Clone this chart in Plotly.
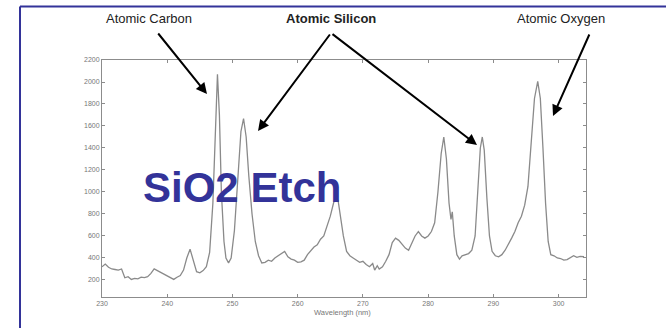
import plotly.graph_objects as go

# ---- data ----
wavelength = [230.0, 230.5, 231.0, 231.5, 232.0, 232.5, 233.0, 233.5, 234.0, 234.5, 235.0, 235.5,
              236.0, 236.5, 237.0, 237.5, 238.0, 238.5, 239.0, 239.5, 240.0, 240.5, 241.0, 241.5,
              242.0, 242.5, 243.0, 243.5, 244.0, 244.5, 245.0, 245.5, 246.0, 246.5, 247.0, 247.3,
              247.7, 248.0, 248.3, 248.7, 249.0, 249.4, 249.8, 250.3, 250.8, 251.3, 251.7, 252.1,
              252.5, 253.0, 253.5, 254.0, 254.5, 255.0, 255.5, 256.0, 256.5, 257.0, 257.5, 258.0,
              258.5, 259.0, 259.5, 260.0, 260.5, 261.0, 261.5, 262.0, 262.5, 263.0, 263.5, 264.0,
              264.5, 265.0, 265.5, 265.8, 266.2, 266.6, 267.0, 267.5, 268.0, 268.5, 269.0, 269.5,
              270.0, 270.5, 271.0, 271.5, 271.8, 272.2, 272.5, 273.0, 273.5, 274.0, 274.5, 275.0,
              275.5, 276.0, 276.5, 277.0, 277.5, 278.0, 278.5, 279.0, 279.5, 280.0, 280.5, 281.0,
              281.5, 282.0, 282.4, 282.8, 283.2, 283.5, 283.7, 284.0, 284.4, 284.8, 285.2, 285.7,
              286.2, 286.7, 287.2, 287.6, 288.0, 288.3, 288.6, 289.0, 289.4, 289.8, 290.3, 290.8,
              291.3, 291.8, 292.3, 292.8, 293.3, 293.8, 294.3, 294.8, 295.3, 295.8, 296.3, 296.8,
              297.2, 297.6, 298.0, 298.4, 298.8, 299.3, 299.8, 300.3, 300.8, 301.3, 301.8, 302.3,
              302.8, 303.3, 303.9]
intensity = [320, 345, 315, 300, 295, 290, 300, 220, 230, 205, 215, 210,
             225, 222, 230, 260, 300, 285, 270, 250, 240, 220, 205, 225,
             240, 290, 400, 480, 380, 275, 265, 285, 320, 450, 900, 1500,
             2070, 1700, 1000, 550, 400, 355, 400, 650, 1100, 1550, 1668, 1500,
             1150, 800, 550, 420, 355, 360, 380, 370, 400, 420, 440, 460,
             410, 390, 380, 360, 365, 380, 430, 470, 500, 520, 570, 600,
             690, 780, 900, 950, 920, 750, 600, 460, 420, 400, 380, 360,
             370, 340, 320, 350, 290, 330, 300, 320, 370, 430, 540, 580,
             560, 520, 490, 470, 540, 600, 640, 600, 580, 600, 640, 720,
             1000, 1350, 1500, 1300, 900, 750, 820, 600, 430, 390, 420, 430,
             440, 470, 600, 1000, 1400, 1500, 1380, 950, 600, 460, 420, 410,
             430, 470, 520, 580, 640, 720, 780, 880, 1050, 1450, 1850, 2006,
             1850, 1400, 900, 550, 430, 420, 400, 395, 380, 385, 400, 420,
             405, 415, 411]

x_ticks = [230, 240, 250, 260, 270, 280, 290, 300]
y_ticks = [200, 400, 600, 800, 1000, 1200, 1400, 1600, 1800, 2000, 2200]

labels = ["Atomic Carbon", "Atomic Silicon", "Atomic Oxygen"]
big_label = "SiO2 Etch"

# ---- layout geometry (pixels) ----
W, H = 666, 328
L, R, T, B = 102, 586, 60, 297
PW, PH = R - L, B - T


def px(x):
    return (x - L) / PW


def py(y):
    return (B - y) / PH


fig = go.Figure()
fig.add_trace(go.Scatter(x=wavelength, y=intensity, mode="lines",
                         line=dict(color="#8a8a8a", width=1.3), hoverinfo="skip"))

axis_common = dict(showgrid=False, zeroline=False, showline=True, linecolor="#8c8c8c",
                   linewidth=1, mirror="ticks", ticks="inside", ticklen=3,
                   tickcolor="#8c8c8c", tickfont=dict(family="Liberation Sans, Arial", size=7,
                                                      color="#777777"))

fig.update_layout(
    width=W, height=H,
    margin=dict(l=L, r=W - R, t=T, b=H - B, pad=0),
    paper_bgcolor="white", plot_bgcolor="white",
    showlegend=False,
    xaxis=dict(range=[230, 304.2], tickvals=x_ticks, ticktext=[str(v) for v in x_ticks],
               **axis_common),
    yaxis=dict(range=[45, 2200], tickvals=y_ticks, ticktext=[str(v) for v in y_ticks],
               **axis_common),
)

# blue frame
frame_col = "#333399"
fig.add_shape(type="line", xref="paper", yref="paper", x0=px(20), x1=px(666), y0=py(6.5), y1=py(6.5),
              line=dict(color=frame_col, width=2))
fig.add_shape(type="line", xref="paper", yref="paper", x0=px(20), x1=px(20), y0=py(6.5), y1=py(330),
              line=dict(color=frame_col, width=2))

font_name = "Liberation Sans, Arial"


def text_at(x, y, text, size, color, bold=False):
    fig.add_annotation(xref="paper", yref="paper", x=px(x), y=py(y),
                       xanchor="center", yanchor="middle",
                       text=("<b>" + text + "</b>") if bold else text, showarrow=False,
                       font=dict(family=font_name, size=size, color=color))


text_at(149, 19, labels[0], 13, "#222222")
text_at(331, 19, labels[1], 13, "#222222", bold=True)
text_at(561, 19, labels[2], 13, "#222222")
text_at(242, 187, big_label, 42, "#333399", bold=True)
text_at(342, 312, "Wavelength (nm)", 7.5, "#777777")

# arrows (tip at x,y; tail offset ax,ay in pixels)
arrows = [((157, 32), (207, 94)), ((331, 33), (258, 131)), ((331, 33), (477, 145)), ((590, 33), (553, 116))]
for (tx, ty), (hx, hy) in arrows:
    fig.add_annotation(xref="paper", yref="paper", x=px(hx), y=py(hy), ax=tx - hx, ay=ty - hy,
                       text="", showarrow=True, arrowhead=2, arrowsize=1.1, arrowwidth=2,
                       arrowcolor="black", standoff=0, startstandoff=0)

fig.write_html("out.html", config={"displayModeBar": False},
               post_script="document.body.style.margin='0';document.body.style.overflow='hidden';")
